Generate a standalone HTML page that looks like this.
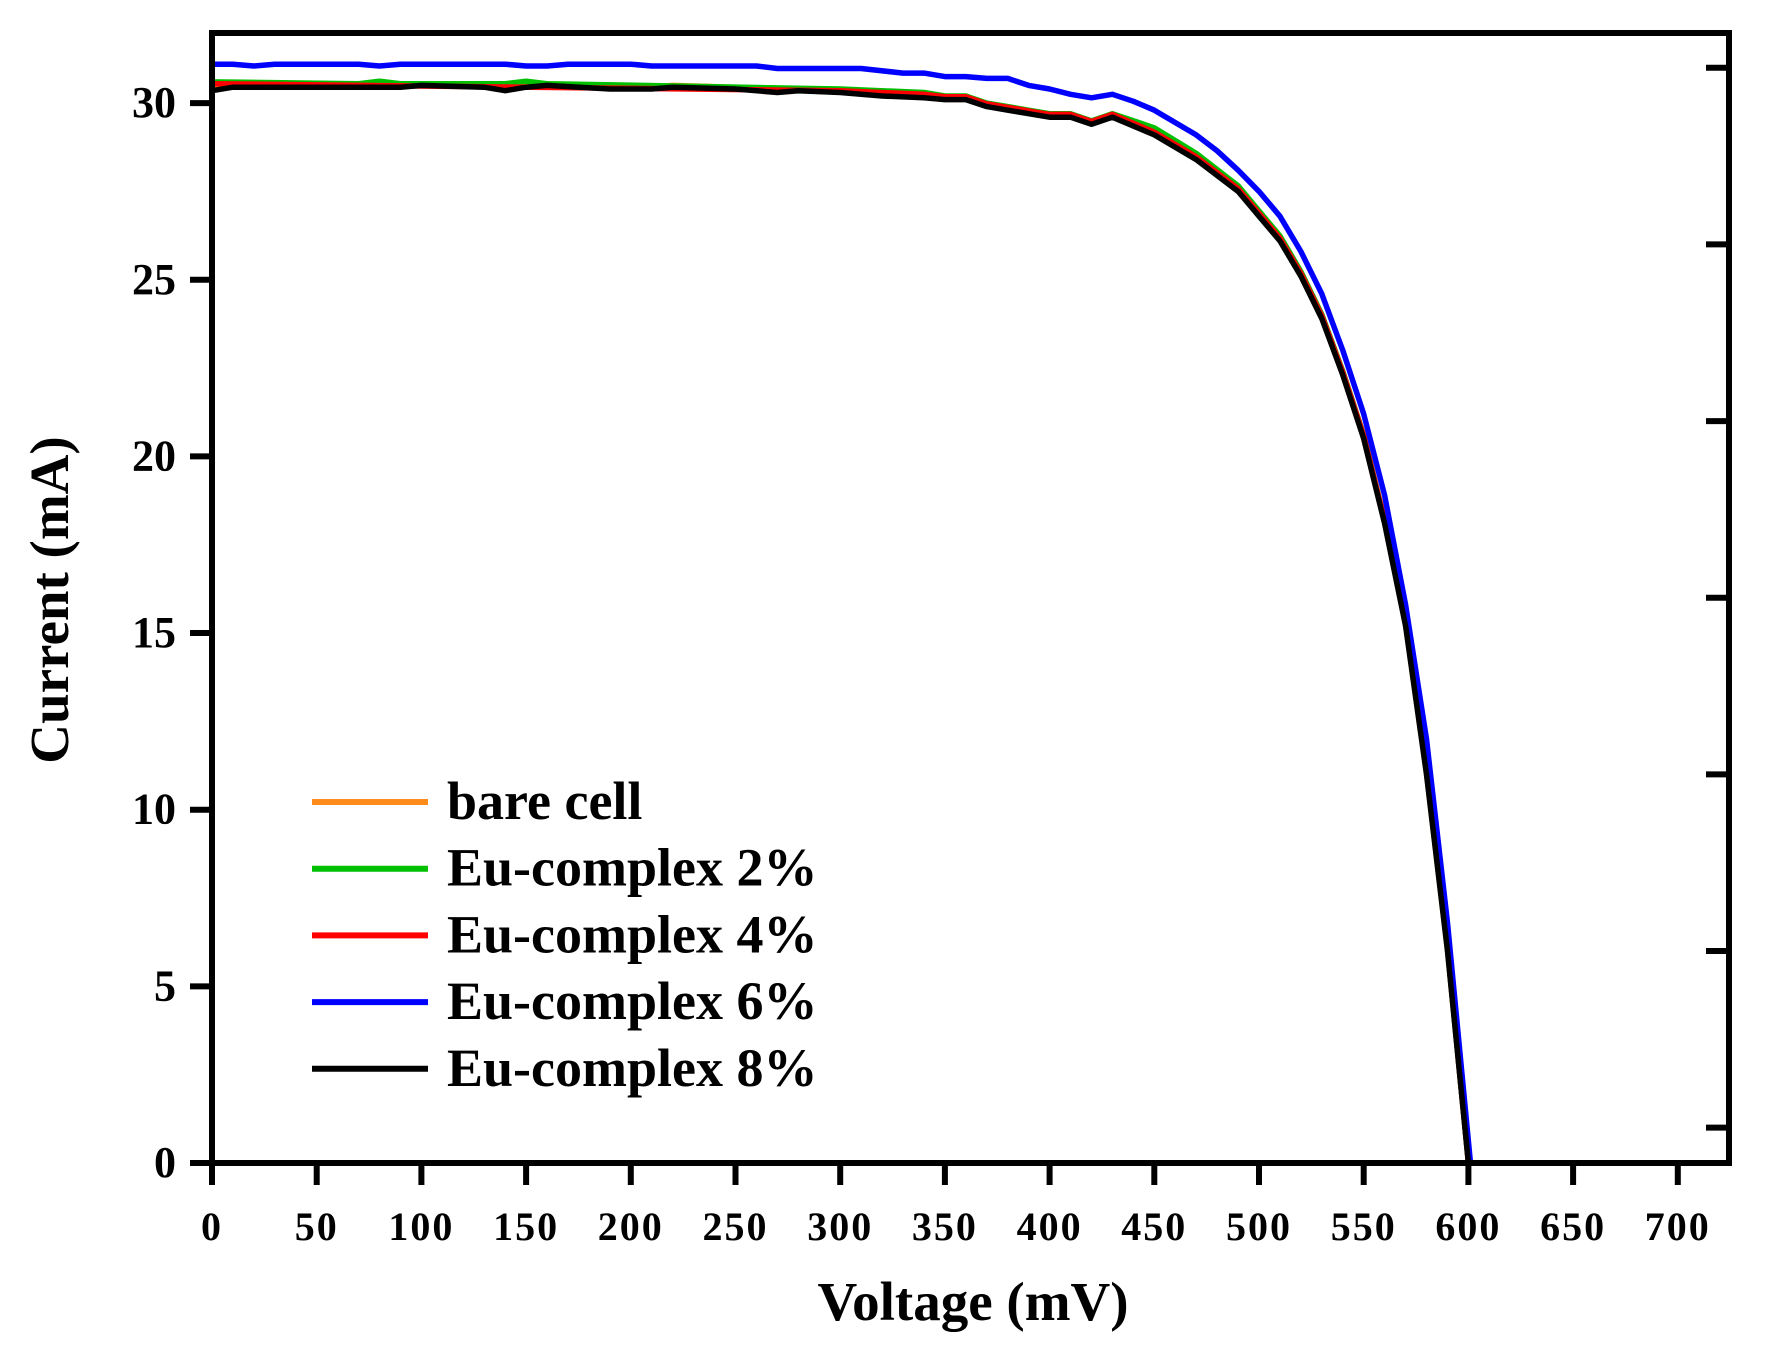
<!DOCTYPE html>
<html><head><style>body{margin:0;background:#fff}svg{display:block}text{font-family:"Liberation Serif",serif;font-weight:bold}</style></head>
<body>
<svg id="s" width="1773" height="1356" xmlns="http://www.w3.org/2000/svg"></svg>
<script>
const s=document.getElementById('s');
const X=v=>212+v*2.094, Y=c=>1163-c*35.33;
let h='';
function pts(a){return a.map(p=>X(p[0]).toFixed(1)+','+Y(p[1]).toFixed(1)).join(' ');}
const tail=[[350,30.1],[360,30.1],[370,29.9],[380,29.8],[390,29.7],[400,29.6],[410,29.6],[420,29.4],[430,29.6],[450,29.1],[470,28.4],[490,27.5],[500,26.8],[510,26.1],[520,25.1],[530,23.9],[540,22.3],[550,20.5],[560,18.1],[570,15.2],[580,11.0],[590,6.0],[600,0]];
const blk=[[0,30.35],[10,30.45],[90,30.45],[100,30.5],[130,30.45],[140,30.35],[150,30.45],[160,30.5],[190,30.4],[210,30.4],[220,30.45],[250,30.4],[270,30.3],[280,30.35],[300,30.3],[320,30.2],[340,30.15]].concat(tail);
const shift=(d,f)=>d.map(p=>[p[0],p[1]+f(p[0])]);
const orange=shift(blk,v=>v<300?0.05:0.02);
const green=[[0,30.6],[70,30.55],[80,30.62],[90,30.55],[140,30.55],[150,30.62],[160,30.55],[300,30.4],[340,30.3]].concat(shift(tail,v=>v<450?0.1:v<600?0.15*(600-v)/150+0.05:0));
const red=[[0,30.55],[300,30.35],[340,30.25]].concat(shift(tail,v=>v<600?0.08:0));
const blue=[[0,31.1],[10,31.1],[20,31.05],[30,31.1],[70,31.1],[80,31.05],[90,31.1],[140,31.1],[150,31.05],[160,31.05],[170,31.1],[200,31.1],[210,31.05],[260,31.05],[270,30.98],[310,30.98],[330,30.85],[340,30.85],[350,30.75],[360,30.75],[370,30.7],[380,30.7],[390,30.5],[400,30.4],[410,30.25],[420,30.15],[430,30.25],[440,30.05],[450,29.8],[470,29.1],[480,28.65],[490,28.1],[500,27.5],[510,26.8],[520,25.8],[530,24.6],[540,23.0],[550,21.2],[560,18.9],[570,15.8],[580,12.0],[590,6.8],[601,0]];
[[orange,'#ff8c1a'],[green,'#00c000'],[red,'#ff0000'],[blue,'#0000ff'],[blk,'#000']].forEach(([d,c])=>{h+=`<polyline points="${pts(d)}" fill="none" stroke="${c}" stroke-width="5.5" stroke-linejoin="round"/>`;});
h+=`<path d="M212,33 H1729 V1163 H212 Z" fill="none" stroke="#000" stroke-width="6"/>`;
for(let v=0;v<=700;v+=50){h+=`<line x1="${X(v)}" y1="1163" x2="${X(v)}" y2="1185" stroke="#000" stroke-width="6"/><text x="${X(v)}" y="1240" font-size="40" letter-spacing="2" text-anchor="middle">${v}</text>`;}
for(let c=0;c<=30;c+=5){h+=`<line x1="190" y1="${Y(c)}" x2="212" y2="${Y(c)}" stroke="#000" stroke-width="6"/><text x="176" y="${Y(c)+14}" font-size="44" text-anchor="end">${c}</text>`;}
for(let c=1;c<=31;c+=5){h+=`<line x1="1706" y1="${Y(c)}" x2="1729" y2="${Y(c)}" stroke="#000" stroke-width="6"/>`;}
const leg=[['bare cell','#ff8c1a'],['Eu-complex 2%','#00c000'],['Eu-complex 4%','#ff0000'],['Eu-complex 6%','#0000ff'],['Eu-complex 8%','#000']];
leg.forEach((l,i)=>{const y=802+i*66.7;h+=`<line x1="312" y1="${y}" x2="428" y2="${y}" stroke="${l[1]}" stroke-width="6"/><text x="447" y="${y+17}" font-size="54">${l[0]}</text>`;});
h+=`<text x="973" y="1320" font-size="55" text-anchor="middle">Voltage (mV)</text>`;
h+=`<text transform="translate(68,600) rotate(-90)" font-size="55" text-anchor="middle">Current (mA)</text>`;
s.innerHTML=h;
</script>
</body></html>
